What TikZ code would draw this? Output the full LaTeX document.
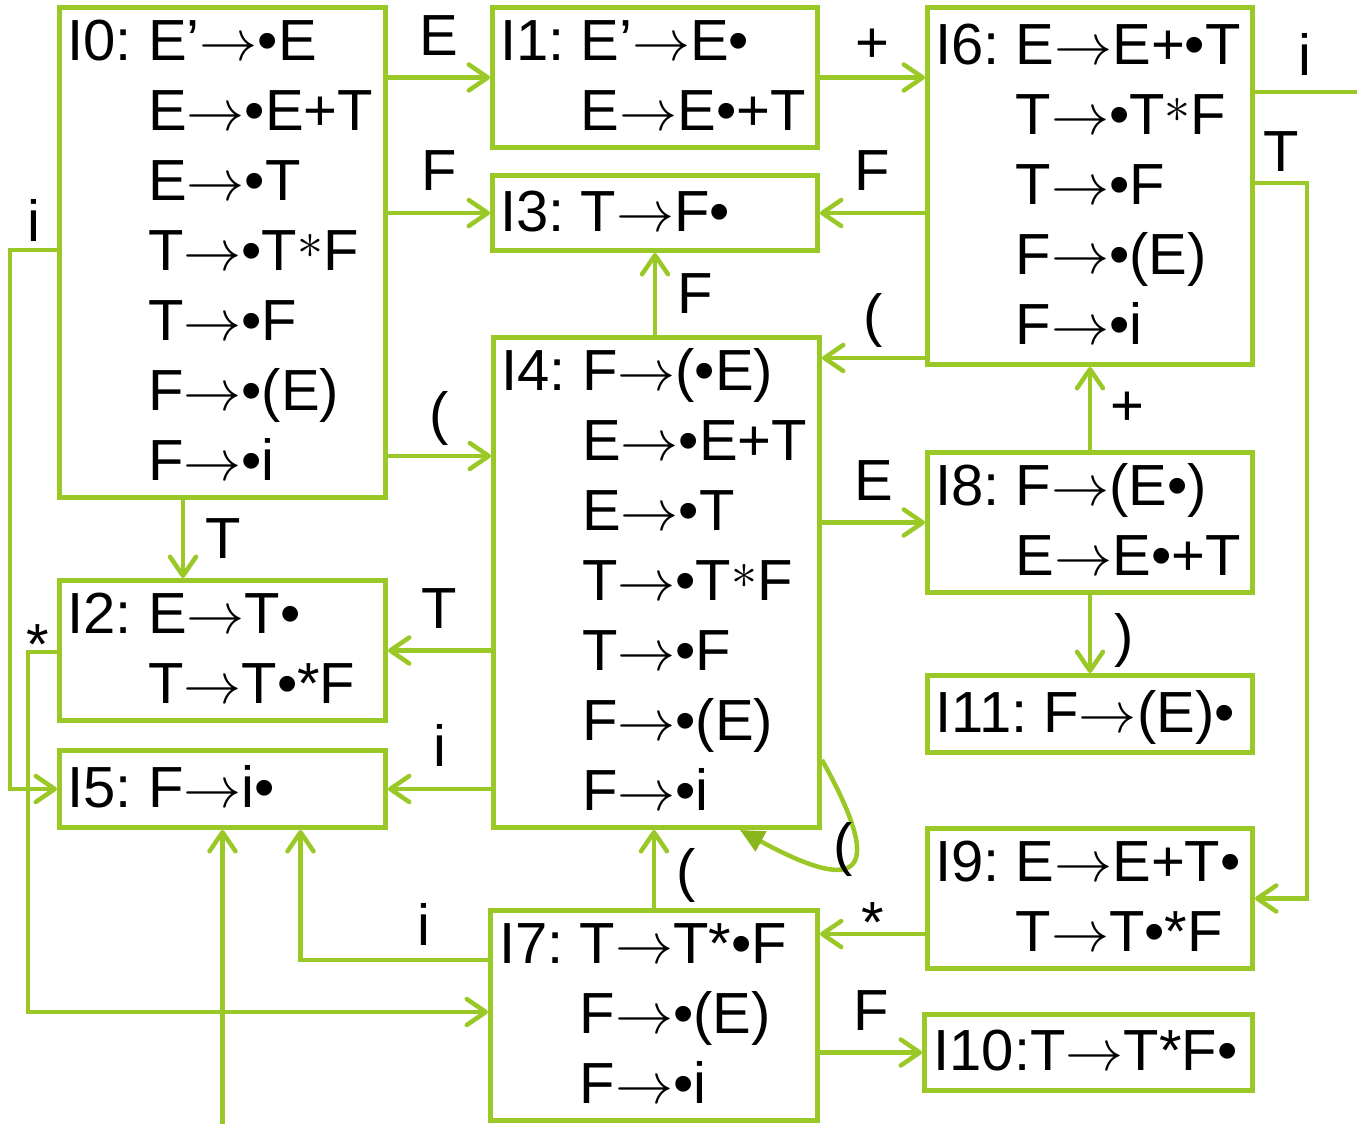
\documentclass[tikz,border=0pt]{standalone}
\usepackage{graphicx}
\usepackage{fontspec}
\setmainfont{Liberation Sans}
\usetikzlibrary{arrows.meta,positioning}
\definecolor{lrgreen}{RGB}{154,200,38}
\definecolor{loopgreen}{RGB}{136,182,28}
\newcommand{\goes}{{\fontsize{20.74}{20}\selectfont\scalebox{2.8}{$\rightarrow$}}}
\newcommand{\st}{{\fontsize{20.74}{20}\selectfont\raisebox{12pt}[0pt][0pt]{\scalebox{2.5}{$\ast$}}}}
\newcommand{\itemset}[1]{\raisebox{-4pt}[\height][\depth]{\makebox[310pt][l]{\begin{tabular}{@{}l@{\ }l@{}}#1\end{tabular}}}}

\begin{document}
\begin{tikzpicture}[x=1pt,y=-1pt,
  box/.style={draw=lrgreen,line width=5pt,anchor=north west,inner sep=0pt,font=\fontsize{58}{70}\selectfont},
  arr/.style={draw=lrgreen,line width=4.5pt,-{Straight Barb[length=19pt,width=26pt,round]}},
  lbl/.style={font=\fontsize{58}{70}\selectfont,inner sep=0pt,text depth=0pt}]
\useasboundingbox (0,0) rectangle (1357,1124);
% the item sets first, every box is placed by its top left corner
% and then the goto edges are drawn between them
\node[box,minimum width=326pt,minimum height=489pt] (I0) at (57,5)
  {\itemset{I0: & E’\goes{}•E \\ & E\goes{}•E+T \\ & E\goes{}•T \\ & T\goes{}•T\st{}F \\ & T\goes{}•F \\ & F\goes{}•(E) \\ & F\goes{}•i}};
\node[box,minimum width=325pt,minimum height=138pt] (I1) at (490,5)
  {\itemset{I1: & E’\goes{}E• \\ & E\goes{}E•+T}};
\node[box,minimum width=325pt,minimum height=75pt] (I3) at (490,173)
  {\itemset{I3: & T\goes{}F•}};
\node[box,minimum width=325pt,minimum height=357pt] (I6) at (925,5)
  {\itemset{I6: & E\goes{}E+•T \\ & T\goes{}•T\st{}F \\ & T\goes{}•F \\ & F\goes{}•(E) \\ & F\goes{}•i}};
\node[box,minimum width=326pt,minimum height=490pt] (I4) at (491,335)
  {\itemset{I4: & F\goes{}(•E) \\ & E\goes{}•E+T \\ & E\goes{}•T \\ & T\goes{}•T\st{}F \\ & T\goes{}•F \\ & F\goes{}•(E) \\ & F\goes{}•i}};
\node[box,minimum width=325pt,minimum height=137pt] (I8) at (925,450)
  {\itemset{I8: & F\goes{}(E•) \\ & E\goes{}E•+T}};
\node[box,minimum width=325pt,minimum height=77pt] (I11) at (925,673)
  {\itemset{I11: & F\goes{}(E)•}};
\node[box,minimum width=325pt,minimum height=139pt] (I9) at (925,826)
  {\itemset{I9: & E\goes{}E+T• \\ & T\goes{}T•*F}};
\node[box,minimum width=328pt,minimum height=76pt] (I10) at (922,1012)
  {\itemset{I10:T\goes{}T*F•}};
\node[box,minimum width=326pt,minimum height=140pt] (I2) at (57,578)
  {\itemset{I2: & E\goes{}T• \\ & T\goes{}T•*F}};
\node[box,minimum width=326pt,minimum height=77pt] (I5) at (57,748)
  {\itemset{I5: & F\goes{}i•}};
\node[box,minimum width=327pt,minimum height=209pt] (I7) at (488,908)
  {\itemset{I7: & T\goes{}T*•F \\ & F\goes{}•(E) \\ & F\goes{}•i}};

% goto edges out of I0
\draw[arr] (I0.east |- I1.west) -- node[lbl,above=20pt]{E} (I1.west);
\draw[arr] (I0.east |- I3.west) -- node[lbl,above=20pt]{F} (I3.west);
\draw[arr] ([yshift=44pt]I0.south east) coordinate (p04) -- node[lbl,above=20pt]{(} (p04 -| I4.west);
\draw[arr] ([xshift=126pt]I0.south west) coordinate (p02) -- node[lbl,right=20pt]{T} (p02 |- I2.north);
\draw[arr] ([yshift=-245pt]I0.north west) -- node[lbl,above=6pt]{i} ++(-47,0) |- (I5.west);
% out of I1 and I6
\draw[arr] (I1.east) -- node[lbl,above=13pt]{+} (I1.east -| I6.west);
\draw[arr] (I6.west |- I3.east) -- node[lbl,above=20pt]{F} (I3.east);
\draw[arr] ([yshift=9pt]I6.south west) coordinate (p64) -- node[lbl,above=20pt]{(} (p64 -| I4.east);
\draw[arr] ([yshift=-87pt]I6.north east) -- node[lbl,above=14pt,xshift=-4pt]{i} ++(107,0) |- ([yshift=-320pt]I5.south) -- (I5.south);
\draw[arr] ([yshift=-178pt]I6.north east) -- node[lbl,above=9pt]{T} ++(52,0) |- (I9.east);
% out of I4
\draw[arr] (I3.south |- I4.north) -- node[lbl,right=20pt]{F} (I3.south);
\draw[arr] (I4.east |- I8.west) -- node[lbl,above=20pt]{E} (I8.west);
\draw[arr] (I4.west |- I2.east) -- node[lbl,above=20pt]{T} (I2.east);
\draw[arr] (I4.west |- I5.east) -- node[lbl,above=20pt]{i} (I5.east);
\draw[draw=lrgreen,line width=4.5pt,-{Triangle[length=24pt,width=22pt,color=loopgreen]}]
  ([yshift=70pt]I4.south east) .. controls +(70,125) and +(110,60) .. node[lbl,pos=.5,xshift=-5pt,yshift=21pt]{(} ([xshift=-82pt]I4.south east);
% out of I8, I9, I7 and I2
\draw[arr] (I8.north) -- node[lbl,right=18pt]{+} (I6.south);
\draw[arr] (I8.south) -- node[lbl,right=22pt]{)} (I11.north);
\draw[arr] ([yshift=37pt]I9.south west) coordinate (p97) -- node[lbl,above=-11pt]{*} (p97 -| I7.east);
\draw[arr] (I7.north) -- node[lbl,right=20pt]{(} (I7.north |- I4.south);
\draw[arr] ([yshift=-52pt]I7.north west) -| node[lbl,pos=.17,above=12pt]{i} ([xshift=78pt]I5.south);
\draw[arr] (I7.east |- I10.west) -- node[lbl,above=20pt]{F} (I10.west);
\draw[arr] ([yshift=-74pt]I2.north west) -- node[lbl,above=-15pt,xshift=-5pt]{*} ++(-29,0) |- ([yshift=-104pt]I7.north west);
\end{tikzpicture}
\end{document}
